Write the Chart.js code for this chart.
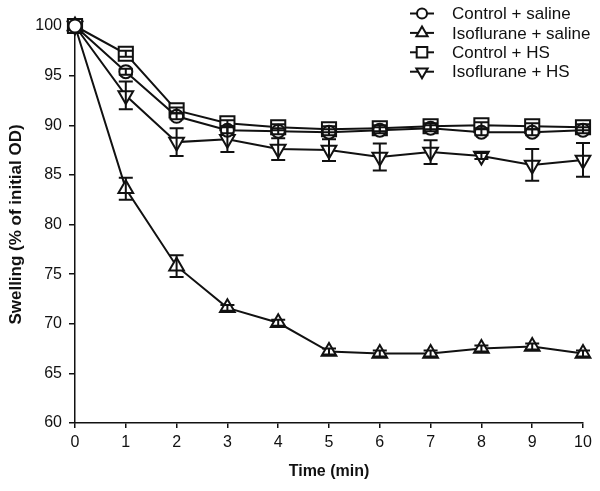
<!DOCTYPE html>
<html>
<head>
<meta charset="utf-8">
<script src="https://cdn.jsdelivr.net/npm/chart.js@4"></script>
<style>
  html, body { margin: 0; padding: 0; background: #fff; }
  #wrap { width: 600px; height: 491px; position: relative; }
</style>
</head>
<body>
<div id="wrap"><canvas id="chart"></canvas></div>
<script>
const timeLabels = [0, 1, 2, 3, 4, 5, 6, 7, 8, 9, 10];

const controlSaline = [100, 95.4, 90.9, 89.5, 89.4, 89.3, 89.5, 89.7, 89.3, 89.3, 89.5];
const isoSaline = [100, 83.6, 75.8, 71.6, 70.1, 67.2, 67.0, 67.0, 67.5, 67.7, 67.0];
const controlHS = [100, 97.2, 91.5, 90.2, 89.8, 89.6, 89.7, 89.9, 90.0, 89.9, 89.8];
const isoHS = [100, 93.0, 88.3, 88.6, 87.6, 87.5, 86.8, 87.3, 86.9, 86.0, 86.5];

const errControlSaline = [0, 0.3, 0.3, 0.3, 0.3, 0.3, 0.3, 0.3, 0.3, 0.3, 0.3];
const errIsoSaline = [0, 1.1, 1.1, 0.3, 0.3, 0.3, 0.3, 0.3, 0.3, 0.3, 0.3];
const errControlHS = [0, 0.3, 0.3, 0.3, 0.3, 0.3, 0.3, 0.3, 0.3, 0.3, 0.3];
const errIsoHS = [0, 1.4, 1.4, 1.3, 1.1, 1.1, 1.35, 1.2, 0.3, 1.6, 1.7];

const seriesNames = ["Control + saline", "Isoflurane + saline", "Control + HS", "Isoflurane + HS"];
const yTicks = [60, 65, 70, 75, 80, 85, 90, 95, 100];

const ink = "#111111";
const fontFamily = "Arial, 'Liberation Sans', sans-serif";

function series(label, data, err, style, radius, rotation, legendRadius) {
  return {
    label,
    data: data.map((v, i) => ({ x: timeLabels[i], y: v })),
    err,
    borderColor: ink,
    backgroundColor: "#ffffff",
    borderWidth: 2,
    pointStyle: style,
    pointRadius: radius,
    pointHoverRadius: radius,
    pointRotation: rotation,
    pointBorderWidth: 2,
    pointBorderColor: ink,
    pointBackgroundColor: "#ffffff",
    legendRadius,
    tension: 0,
    clip: false,
  };
}

const errorBars = {
  id: "errorBars",
  afterDatasetsDraw(chart) {
    const ctx = chart.ctx;
    const xs = chart.scales.x;
    const ys = chart.scales.y;
    ctx.save();
    ctx.strokeStyle = ink;
    ctx.lineWidth = 2;
    chart.data.datasets.forEach((ds) => {
      ds.data.forEach((p, i) => {
        const e = ds.err[i];
        if (!e) return;
        const x = xs.getPixelForValue(p.x);
        const top = ys.getPixelForValue(p.y + e);
        const bot = ys.getPixelForValue(p.y - e);
        ctx.beginPath();
        ctx.moveTo(x, top);
        ctx.lineTo(x, bot);
        ctx.moveTo(x - 7, top);
        ctx.lineTo(x + 7, top);
        ctx.moveTo(x - 7, bot);
        ctx.lineTo(x + 7, bot);
        ctx.stroke();
      });
    });
    ctx.restore();
  },
};

const lineLegend = {
  id: "lineLegend",
  afterDraw(chart) {
    const ctx = chart.ctx;
    ctx.save();
    ctx.font = "17px " + fontFamily;
    ctx.textBaseline = "middle";
    chart.data.datasets.forEach((ds, i) => {
      const y = 13.5 + i * 19.4;
      ctx.strokeStyle = ink;
      ctx.fillStyle = "#ffffff";
      ctx.lineWidth = 2;
      ctx.beginPath();
      ctx.moveTo(410, y);
      ctx.lineTo(434, y);
      ctx.stroke();
      Chart.helpers.drawPoint(ctx, {
        pointStyle: ds.pointStyle,
        rotation: ds.pointRotation,
        radius: ds.legendRadius,
        borderWidth: 2,
      }, 422, y);
      ctx.fillStyle = ink;
      ctx.fillText(ds.label, 452, y + 1);
    });
    ctx.restore();
  },
};

new Chart(document.getElementById("chart"), {
  type: "line",
  data: {
    datasets: [
      series(seriesNames[0], controlSaline, errControlSaline, "circle", 6.5, 0, 5),
      series(seriesNames[1], isoSaline, errIsoSaline, "triangle", 8.5, 0, 6.5),
      series(seriesNames[2], controlHS, errControlHS, "rect", 10, 0, 7.5),
      series(seriesNames[3], isoHS, errIsoHS, "triangle", 8.5, 180, 6.5),
    ],
  },
  options: {
    responsive: true,
    maintainAspectRatio: false,
    animation: false,
    layout: { padding: { top: 26, right: 17, left: 0, bottom: 0 } },
    plugins: {
      legend: { display: false },
      tooltip: { enabled: false },
    },
    scales: {
      x: {
        type: "linear",
        min: 0,
        max: 10,
        afterFit: (s) => { s.height = 68; },
        afterBuildTicks: (s) => { s.ticks = timeLabels.map((v) => ({ value: v })); },
        ticks: { color: ink, padding: 5, font: { size: 16, family: fontFamily } },
        grid: { drawOnChartArea: false, drawTicks: true, tickLength: 5, color: ink, lineWidth: 1.5 },
        border: { display: true, color: ink, width: 1.5 },
        title: {
          display: true,
          text: "Time (min)",
          color: ink,
          font: { size: 16, weight: "bold", family: fontFamily },
          padding: { top: 0, bottom: 10 },
        },
      },
      y: {
        min: 60,
        max: 100,
        afterFit: (s) => { s.width = 75; },
        afterBuildTicks: (s) => { s.ticks = yTicks.map((v) => ({ value: v })); },
        ticks: { color: ink, padding: 7, font: { size: 16, family: fontFamily } },
        grid: { drawOnChartArea: false, drawTicks: true, tickLength: 6, color: ink, lineWidth: 1.5 },
        border: { display: true, color: ink, width: 1.5 },
        title: {
          display: true,
          text: "Swelling (% of initial OD)",
          color: ink,
          font: { size: 17, weight: "bold", family: fontFamily },
          padding: { top: 6, bottom: 0 },
        },
      },
    },
  },
  plugins: [errorBars, lineLegend],
});
</script>
</body>
</html>
